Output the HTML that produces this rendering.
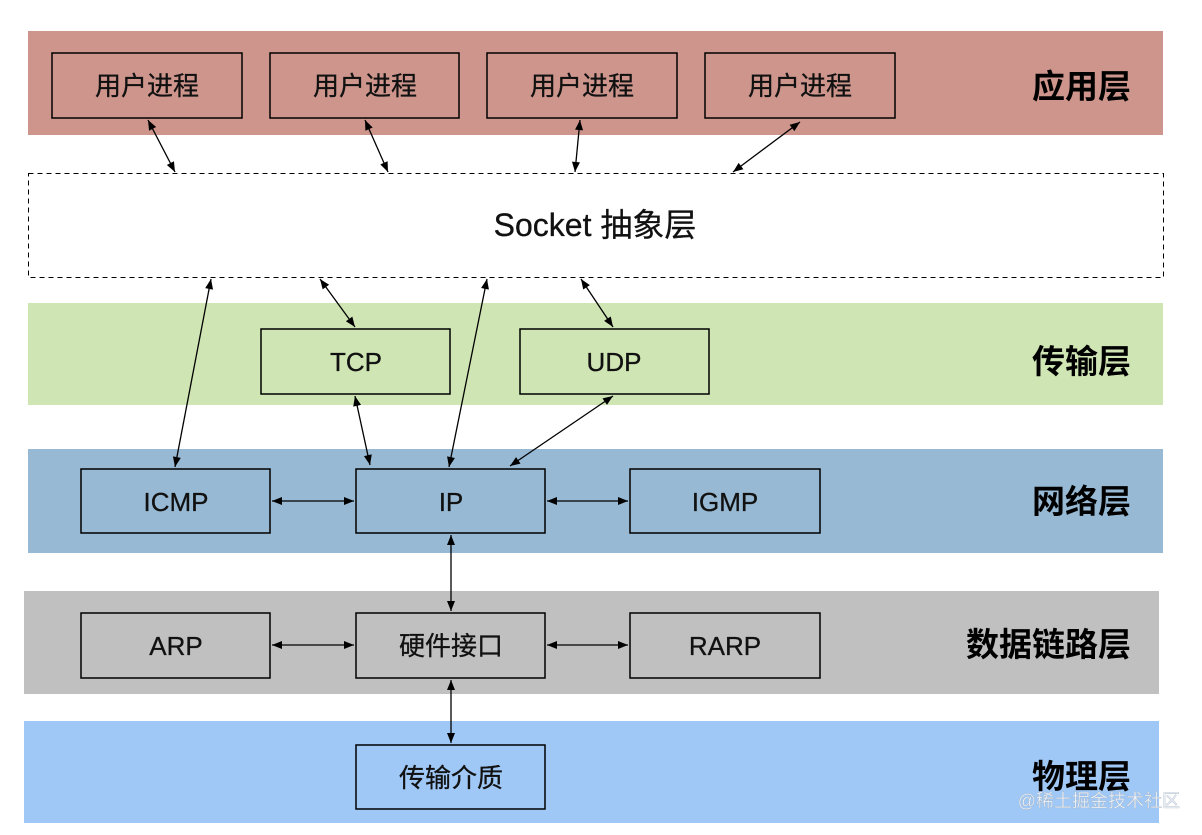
<!DOCTYPE html>
<html><head><meta charset="utf-8"><style>
html,body{margin:0;padding:0;background:#fff;}
svg{display:block;}
text{font-family:"Liberation Sans","Noto Sans CJK SC",sans-serif;}
</style></head><body>
<svg width="1202" height="835" viewBox="0 0 1202 835" xmlns="http://www.w3.org/2000/svg">
<defs>
<marker id="a" viewBox="0 0 10 10" refX="10" refY="5" markerWidth="13" markerHeight="10" markerUnits="userSpaceOnUse" orient="auto-start-reverse">
<path d="M0,1 L10,5 L0,9 z" fill="#000"/></marker>
</defs>
<rect x="28" y="31" width="1135" height="104" fill="#cd958b"/>
<rect x="28.5" y="173.5" width="1135" height="104" fill="#fff" stroke="#000" stroke-width="1" stroke-dasharray="5,4"/>
<rect x="28" y="303" width="1135" height="102" fill="#cfe5b4"/>
<rect x="28" y="449" width="1135" height="104" fill="#97b9d3"/>
<rect x="24" y="591" width="1135" height="103" fill="#c0c0c0"/>
<rect x="24" y="721" width="1135" height="102" fill="#a0c8f6"/>
<g fill="none" stroke="#000" stroke-width="1.5">
<rect x="52" y="53" width="190" height="65"/>
<rect x="270" y="53" width="189" height="65"/>
<rect x="487" y="53" width="190" height="65"/>
<rect x="705" y="53" width="190" height="65"/>
<rect x="261" y="329" width="189" height="65"/>
<rect x="520" y="329" width="189" height="65"/>
<rect x="81" y="469" width="189" height="64"/>
<rect x="356" y="469" width="189" height="64"/>
<rect x="630" y="469" width="190" height="64"/>
<rect x="81" y="613" width="189" height="65"/>
<rect x="356" y="613" width="189" height="65"/>
<rect x="630" y="613" width="190" height="65"/>
<rect x="356" y="745" width="189" height="64"/>
</g>
<g stroke="#000" stroke-width="1.3" marker-start="url(#a)" marker-end="url(#a)">
<line x1="148" y1="120" x2="175" y2="172"/>
<line x1="365" y1="120" x2="388" y2="172"/>
<line x1="580" y1="120" x2="575" y2="172"/>
<line x1="800" y1="122" x2="733" y2="172"/>
<line x1="175" y1="467" x2="211" y2="279"/>
<line x1="320" y1="279" x2="355" y2="327"/>
<line x1="449" y1="467" x2="487" y2="279"/>
<line x1="581" y1="279" x2="613" y2="327"/>
<line x1="355" y1="396" x2="370" y2="465"/>
<line x1="613" y1="396" x2="510" y2="466"/>
<line x1="272" y1="501" x2="354" y2="501"/>
<line x1="547" y1="501" x2="628" y2="501"/>
<line x1="451" y1="535" x2="451" y2="611"/>
<line x1="272" y1="645" x2="354" y2="645"/>
<line x1="547" y1="645" x2="628" y2="645"/>
<line x1="451" y1="680" x2="451" y2="743"/>
</g>
<g font-size="26" text-anchor="middle" fill="#111" stroke="#111" stroke-width="0.3">
<text x="147" y="95">用户进程</text>
<text x="365" y="95">用户进程</text>
<text x="582" y="95">用户进程</text>
<text x="800" y="95">用户进程</text>
<text x="356" y="371">TCP</text>
<text x="614" y="371">UDP</text>
<text x="176" y="511">ICMP</text>
<text x="451" y="511">IP</text>
<text x="725" y="511">IGMP</text>
<text x="176" y="655">ARP</text>
<text x="451" y="655">硬件接口</text>
<text x="725" y="655">RARP</text>
<text x="451" y="787">传输介质</text>
<text x="595" y="236" font-size="32">Socket 抽象层</text>
</g>
<g font-size="33" font-weight="bold" text-anchor="end" fill="#000">
<text x="1131" y="98">应用层</text>
<text x="1131" y="373">传输层</text>
<text x="1131" y="513">网络层</text>
<text x="1131" y="656">数据链路层</text>
<text x="1131" y="788">物理层</text>
</g>
<text x="1180" y="807" font-size="18" text-anchor="end" fill="#eef3fa" stroke="#9aa8b8" stroke-width="0.3">@稀土掘金技术社区</text>
</svg>
</body></html>
